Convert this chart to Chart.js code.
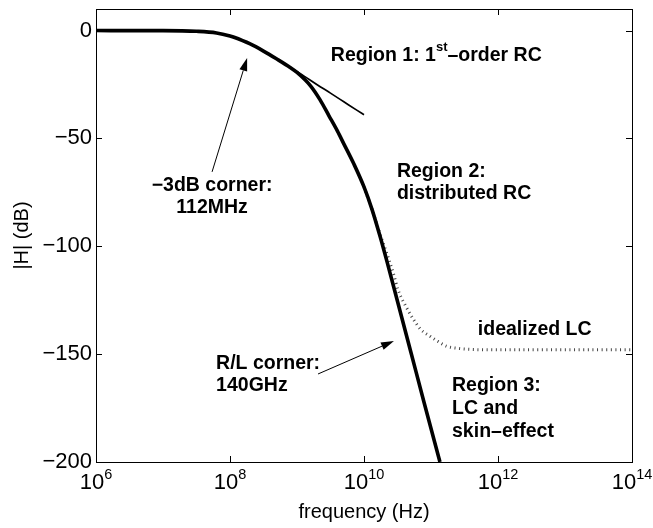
<!DOCTYPE html>
<html>
<head>
<meta charset="utf-8">
<script src="https://cdn.jsdelivr.net/npm/chart.js@4.4.1/dist/chart.umd.min.js"></script>
<style>
  html, body { margin: 0; padding: 0; background: #ffffff; }
  #wrap { width: 653px; height: 528px; }
</style>
</head>
<body>
<div id="wrap"><canvas id="c" width="653" height="528"></canvas></div>
<script>
// Interconnect transfer magnitude |H| versus frequency

// Full response (thick curve)
const freqFull = [1e6, 1e7, 3.16e7, 6.3e7, 1e8, 1.12e8, 2e8, 3.16e8, 5e8, 7.9e8, 1e9, 1.58e9,
                  2.2e9, 3e9, 4e9, 5e9, 7.1e9, 1e10, 1.32e10, 1.74e10, 2.2e10, 3.16e10,
                  5e10, 7.9e10, 1.36e11];
const magFull  = [0, -0.04, -0.35, -1.1, -2.5, -3.0, -6.2, -9.5, -13.2, -17.1, -19.4, -25.5,
                  -32, -39.5, -46.5, -52.5, -62, -72.5, -83, -95.5, -107, -125.5,
                  -149, -172.5, -200];

// First-order RC approximation (thin line)
const freqRC = [1e6, 1e7, 3.16e7, 6.3e7, 1e8, 1.12e8, 2e8, 3.16e8, 5e8, 7.9e8, 1e9, 1.26e9, 2e9,
                3.16e9, 5e9, 7.9e9, 1e10];
const magRC  = [0, -0.03, -0.33, -1.1, -2.5, -3.0, -6.2, -9.5, -13.2, -17.0, -19.1, -21.0, -25.1,
                -29.0, -33.0, -37.0, -39.0];

// Idealized LC response (dotted)
const freqLC = [1e10, 1.32e10, 1.74e10, 2.2e10, 2.8e10, 3.2e10, 4e10, 5.5e10, 7e10, 9.7e10,
                1.26e11, 1.7e11, 2.5e11, 3.8e11, 1e12, 1e13, 1e14];
const magLC  = [-72.5, -83, -94.5, -103.5, -113.5, -120, -126.5, -134, -138.5, -141.7,
                -144, -146.3, -147.3, -147.8, -148, -148, -148];

// Axis ticks
const xTickValues = [1e6, 1e8, 1e10, 1e12, 1e14];
const yTickValues = [-200, -150, -100, -50, 0];

const FONT = '"Liberation Sans", Arial, Helvetica, sans-serif';
const NOTE_FONT = 'bold 19.5px ' + FONT;

const toPoints = (xs, ys) => xs.map((x, i) => ({ x: x, y: ys[i] }));

// Text notes and arrows, anchored in data coordinates (Hz, dB)
const notes = [
  { lines: ['Region 2:', 'distributed RC'], x: 3.1e10, y: -65.5, align: 'left', gap: 22 },
  { lines: ['\u22123dB corner:', '112MHz'], x: 5.4e7, y: -72, align: 'center', gap: 21.5 },
  { lines: ['R/L corner:', '140GHz'], x: 6.2e7, y: -154.5, align: 'left', gap: 22 },
  { lines: ['idealized LC'], x: 5.0e11, y: -138.8, align: 'left', gap: 22 },
  { lines: ['Region 3:', 'LC and', 'skin\u2013effect'], x: 2.06e11, y: -164.7, align: 'left', gap: 23 }
];
const regionOne = { x: 3.2e9, y: -11.5, parts: ['Region 1: 1', 'st', '\u2013order RC'] };
const arrows = [
  { from: [5.4e7, -65.5], to: [1.8e8, -12.7] },
  { from: [2.06e9, -159.2], to: [2.8e10, -143.9] }
];

const frameAndNotes = {
  id: 'frameAndNotes',
  afterDatasetsDraw(chart) {
    const ctx = chart.ctx;
    const a = chart.chartArea;
    const xs = chart.scales.x, ys = chart.scales.y;
    ctx.save();
    ctx.strokeStyle = '#000';
    ctx.fillStyle = '#000';
    ctx.lineWidth = 1;

    // box
    ctx.strokeRect(Math.round(a.left) + 0.5, Math.round(a.top) + 0.5,
                   Math.round(a.right - a.left), Math.round(a.bottom - a.top));

    // inward tick marks on all four sides
    const tl = 6;
    ctx.beginPath();
    xTickValues.forEach(v => {
      const px = Math.round(xs.getPixelForValue(v)) + 0.5;
      ctx.moveTo(px, a.bottom); ctx.lineTo(px, a.bottom - tl);
      ctx.moveTo(px, a.top); ctx.lineTo(px, a.top + tl);
    });
    yTickValues.forEach(v => {
      const py = Math.round(ys.getPixelForValue(v)) + 0.5;
      ctx.moveTo(a.left, py); ctx.lineTo(a.left + tl, py);
      ctx.moveTo(a.right, py); ctx.lineTo(a.right - tl, py);
    });
    ctx.stroke();

    // x tick labels as 10 with a raised exponent
    ctx.textBaseline = 'alphabetic';
    ctx.textAlign = 'left';
    xTickValues.forEach(v => {
      const px = xs.getPixelForValue(v);
      const e = String(Math.round(Math.log10(v)));
      ctx.font = '22px ' + FONT;
      const w1 = ctx.measureText('10').width;
      ctx.font = '14.5px ' + FONT;
      const w2 = ctx.measureText(e).width;
      const start = px - (w1 + w2) / 2;
      ctx.font = '22px ' + FONT;
      ctx.fillText('10', start, a.bottom + 27);
      ctx.font = '14.5px ' + FONT;
      ctx.fillText(e, start + w1, a.bottom + 17);
    });

    // notes
    ctx.textBaseline = 'middle';
    notes.forEach(n => {
      ctx.font = NOTE_FONT;
      ctx.textAlign = n.align;
      const px = xs.getPixelForValue(n.x);
      const py = ys.getPixelForValue(n.y);
      n.lines.forEach((t, i) => ctx.fillText(t, px, py + i * n.gap));
    });

    // first-order RC label with superscript
    {
      let px = xs.getPixelForValue(regionOne.x);
      const py = ys.getPixelForValue(regionOne.y);
      ctx.textAlign = 'left';
      ctx.font = NOTE_FONT;
      ctx.fillText(regionOne.parts[0], px, py);
      px += ctx.measureText(regionOne.parts[0]).width;
      ctx.font = 'bold 13px ' + FONT;
      ctx.fillText(regionOne.parts[1], px, py - 8);
      px += ctx.measureText(regionOne.parts[1]).width;
      ctx.font = NOTE_FONT;
      ctx.fillText(regionOne.parts[2], px, py);
    }

    // arrows
    arrows.forEach(ar => {
      const x0 = xs.getPixelForValue(ar.from[0]), y0 = ys.getPixelForValue(ar.from[1]);
      const x1 = xs.getPixelForValue(ar.to[0]), y1 = ys.getPixelForValue(ar.to[1]);
      const ang = Math.atan2(y1 - y0, x1 - x0);
      const hl = 13, hw = 4;
      const bx = x1 - hl * Math.cos(ang), by = y1 - hl * Math.sin(ang);
      ctx.beginPath();
      ctx.moveTo(x0, y0); ctx.lineTo(bx, by);
      ctx.lineWidth = 1;
      ctx.stroke();
      ctx.beginPath();
      ctx.moveTo(x1, y1);
      ctx.lineTo(bx + hw * Math.sin(ang), by - hw * Math.cos(ang));
      ctx.lineTo(bx - hw * Math.sin(ang), by + hw * Math.cos(ang));
      ctx.closePath();
      ctx.fill();
    });
    ctx.restore();
  }
};

new Chart(document.getElementById('c'), {
  type: 'line',
  data: {
    datasets: [
      {
        label: 'full response',
        data: toPoints(freqFull, magFull),
        borderColor: '#000', borderWidth: 3.6, pointRadius: 0,
        cubicInterpolationMode: 'monotone', order: 0
      },
      {
        label: 'first-order RC',
        data: toPoints(freqRC, magRC),
        borderColor: '#000', borderWidth: 1.7, pointRadius: 0,
        cubicInterpolationMode: 'monotone', order: 1
      },
      {
        label: 'idealized LC',
        data: toPoints(freqLC, magLC),
        borderColor: '#444', borderWidth: 3, borderDash: [1, 3.6], pointRadius: 0,
        cubicInterpolationMode: 'monotone', order: 2
      }
    ]
  },
  options: {
    responsive: false,
    animation: false,
    devicePixelRatio: 1,
    layout: { padding: { top: 9, right: 21, left: 0, bottom: 0 } },
    plugins: { legend: { display: false }, tooltip: { enabled: false } },
    scales: {
      x: {
        type: 'logarithmic',
        min: 1e6, max: 1e14,
        grid: { display: false, drawTicks: false },
        border: { display: false },
        ticks: { display: false },
        afterBuildTicks: s => { s.ticks = xTickValues.map(v => ({ value: v })); },
        afterFit: s => { s.height = 66; s.paddingLeft = 0; s.paddingRight = 0; },
        title: {
          display: true, text: 'frequency (Hz)', color: '#000',
          font: { family: FONT, size: 20 }, padding: { top: 0, bottom: 4 }
        }
      },
      y: {
        type: 'linear',
        min: -200, max: 10,
        grid: { display: false, drawTicks: false },
        border: { display: false },
        afterBuildTicks: s => { s.ticks = yTickValues.map(v => ({ value: v })); },
        afterFit: s => { s.width = 96; s.paddingTop = 0; s.paddingBottom = 0; },
        ticks: {
          color: '#000', padding: 4,
          font: { family: FONT, size: 22 },
          callback: v => String(v).replace('-', '\u2212')
        },
        title: {
          display: true, text: '|H| (dB)', color: '#000',
          font: { family: FONT, size: 20 }, padding: { top: 10, bottom: 0 }
        }
      }
    }
  },
  plugins: [frameAndNotes]
});
</script>
</body>
</html>
